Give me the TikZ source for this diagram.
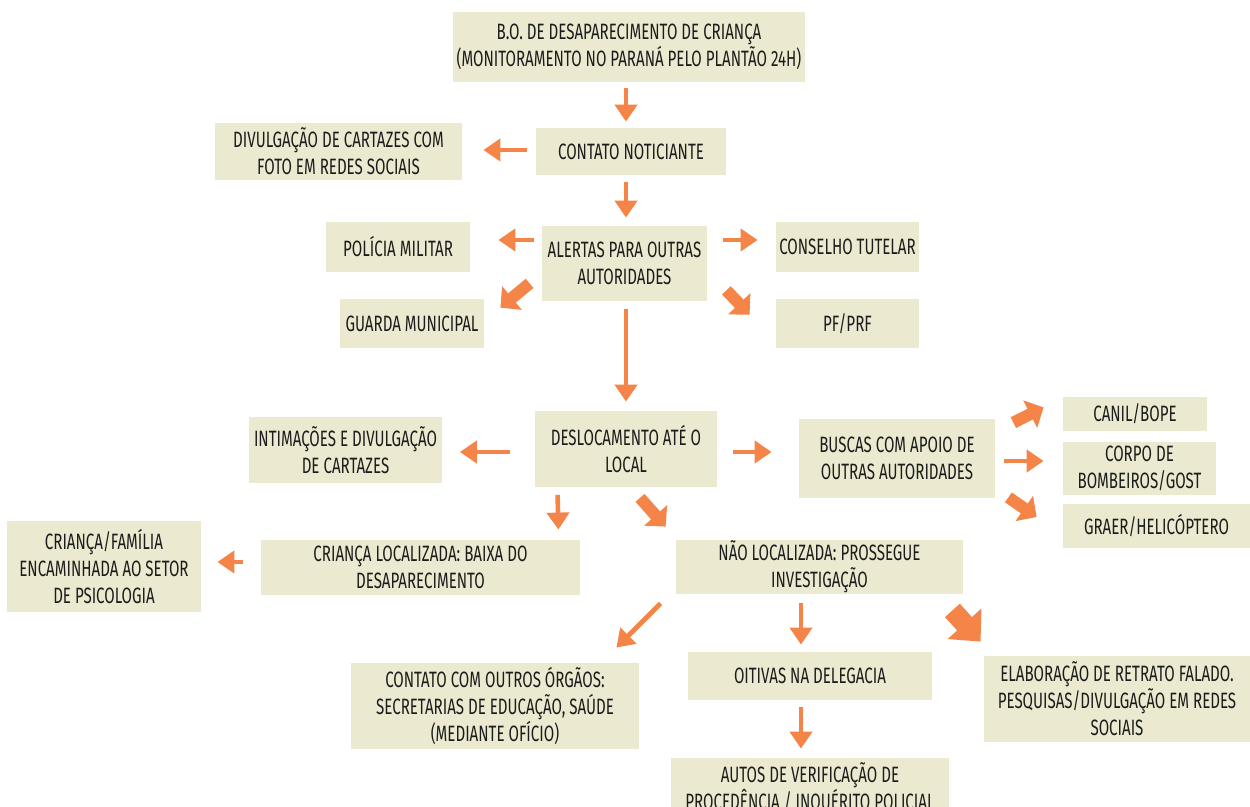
\documentclass[tikz,border=0pt]{standalone}
\usepackage{fontspec}
\setmainfont{Fira Sans}[FakeStretch=0.68]
\usetikzlibrary{arrows.meta}
\definecolor{cardfill}{RGB}{235,234,208}
\definecolor{flow}{RGB}{245,132,72}
\definecolor{ink}{RGB}{28,28,28}

\begin{document}
\begin{tikzpicture}[x=0.5pt,y=-0.5pt,
        font=\fontsize{11.1}{13.5}\selectfont,
        card/.style={fill=cardfill, text=ink, align=center, inner sep=0pt},
        flowthin/.style={draw=flow, line width=2.3pt, -{Triangle[width=11pt,length=8.5pt]}},
        flowfat/.style={draw=flow, line width=6pt, -{Triangle[width=15pt,length=7.5pt]}},
        flowhuge/.style={draw=flow, line width=10pt, -{Triangle[width=22pt,length=12pt]}}]
    \newcommand\stepcard[5]{% {<name>}{<center>}{<width>}{<height>}{<text>}
        \node[card, minimum width=#3*0.5pt, minimum height=#4*0.5pt] (#1) at #2 {#5};
    }
    \useasboundingbox (0,0) rectangle (1250,807);

    % boxes
    \stepcard{bo}{(629,47)}{352}{70}{B.O. DE DESAPARECIMENTO DE CRIANÇA\\(MONITORAMENTO NO PARANÁ PELO PLANTÃO 24H)}
    \stepcard{contato}{(631,151.5)}{190}{47}{CONTATO NOTICIANTE}
    \stepcard{divulga}{(338.5,151.5)}{247}{57}{DIVULGAÇÃO DE CARTAZES COM\\FOTO EM REDES SOCIAIS}
    \stepcard{alertas}{(624.5,263.5)}{165}{75}{ALERTAS PARA OUTRAS\\AUTORIDADES}
    \stepcard{pm}{(398,247)}{144}{50}{POLÍCIA MILITAR}
    \stepcard{conselho}{(847.5,247)}{143}{50}{CONSELHO TUTELAR}
    \stepcard{guarda}{(412,323.5)}{144}{49}{GUARDA MUNICIPAL}
    \stepcard{pf}{(847.5,323.5)}{143}{49}{PF/PRF}
    \stepcard{desloc}{(626,449.5)}{182}{76}{DESLOCAMENTO ATÉ O\\LOCAL}
    \stepcard{intima}{(345.5,450)}{193}{66}{INTIMAÇÕES E DIVULGAÇÃO\\DE CARTAZES}
    \stepcard{buscas}{(897,458.5)}{196}{79}{BUSCAS COM APOIO DE\\OUTRAS AUTORIDADES}
    \stepcard{canil}{(1135,414)}{144}{34}{CANIL/BOPE}
    \stepcard{bombeiros}{(1139.5,468.5)}{153}{53}{CORPO DE\\BOMBEIROS/GOST}
    \stepcard{graer}{(1156.5,526)}{187}{44}{GRAER/HELICÓPTERO}
    \stepcard{localizada}{(420.5,567.5)}{319}{55}{CRIANÇA LOCALIZADA: BAIXA DO\\DESAPARECIMENTO}
    \stepcard{psico}{(104,566.5)}{194}{91}{CRIANÇA/FAMÍLIA\\ENCAMINHADA AO SETOR\\DE PSICOLOGIA}
    \stepcard{naoloc}{(819.5,567)}{287}{54}{NÃO LOCALIZADA: PROSSEGUE\\INVESTIGAÇÃO}
    \stepcard{orgaos}{(495,706)}{288}{86}{CONTATO COM OUTROS ÓRGÃOS:\\SECRETARIAS DE EDUCAÇÃO, SAÚDE\\(MEDIANTE OFÍCIO)}
    \stepcard{oitivas}{(810,676)}{244}{48}{OITIVAS NA DELEGACIA}
    \stepcard{retrato}{(1117,699)}{266}{86}{ELABORAÇÃO DE RETRATO FALADO.\\PESQUISAS/DIVULGAÇÃO EM REDES\\SOCIAIS}
    \stepcard{autos}{(810,787.5)}{278}{59}{AUTOS DE VERIFICAÇÃO DE\\PROCEDÊNCIA / INQUÉRITO POLICIAL}

    % arrows
    \draw[flowthin] ([shift={(-3,6)}]bo.south) -- ([shift={(-5,-6)}]contato.north);
    \draw[flowthin] ([shift={(-9,-1.5)}]contato.west) -- ([shift={(21,-1.5)}]divulga.east);
    \draw[flowthin] ([shift={(-5,7)}]contato.south) -- ([shift={(1.5,-8)}]alertas.north);
    \draw[flowthin] ([shift={(-8,-23.5)}]alertas.west) -- ([shift={(28,-7)}]pm.east);
    \draw[flowthin] ([shift={(16,-23.5)}]alertas.east) -- ([shift={(-18,-7)}]conselho.west);
    \draw[flowfat] ([shift={(-12,-18)}]alertas.south west) -- ([shift={(16,9)}]guarda.north east);
    \draw[flowfat] ([shift={(19,-11)}]alertas.south east) -- ([shift={(-26,16)}]pf.north west);
    \draw[flowthin] ([shift={(1.5,8)}]alertas.south) -- ([shift={(0,-9.5)}]desloc.north);
    \draw[flowthin] ([shift={(-25,2.5)}]desloc.west) -- ([shift={(17.5,2)}]intima.east);
    \draw[flowthin] ([shift={(16,2.5)}]desloc.east) -- ([shift={(-27,-6.5)}]buscas.west);
    \draw[flowfat] ([shift={(18,4)}]buscas.north east) -- ([shift={(-19,-24)}]canil.south west);
    \draw[flowthin] ([shift={(9,2.5)}]buscas.east) -- ([shift={(-19,-7.5)}]bombeiros.west);
    \draw[flowfat] ([shift={(13,-1)}]buscas.south east) -- ([shift={(-26,-9)}]graer.west);
    \draw[flowthin] ([shift={(23,7)}]desloc.south west) -- ([shift={(-22,-10)}]localizada.north east);
    \draw[flowfat] ([shift={(14,10)}]desloc.south) -- ([shift={(-10,-13)}]naoloc.north west);
    \draw[flowthin] ([shift={(-18,-5.5)}]localizada.west) -- ([shift={(16,-4.5)}]psico.east);
    \draw[flowthin] ([shift={(-15,9)}]naoloc.south west) -- ([shift={(-23,-15)}]orgaos.north east);
    \draw[flowthin] ([shift={(-18.5,9)}]naoloc.south) -- ([shift={(-9,-7)}]oitivas.north);
    \draw[flowhuge] ([shift={(-11,16)}]naoloc.south east) -- ([shift={(-3,-14)}]retrato.north west);
    \draw[flowthin] ([shift={(-9,7)}]oitivas.south) -- ([shift={(-9,-9)}]autos.north);
\end{tikzpicture}
\end{document}
